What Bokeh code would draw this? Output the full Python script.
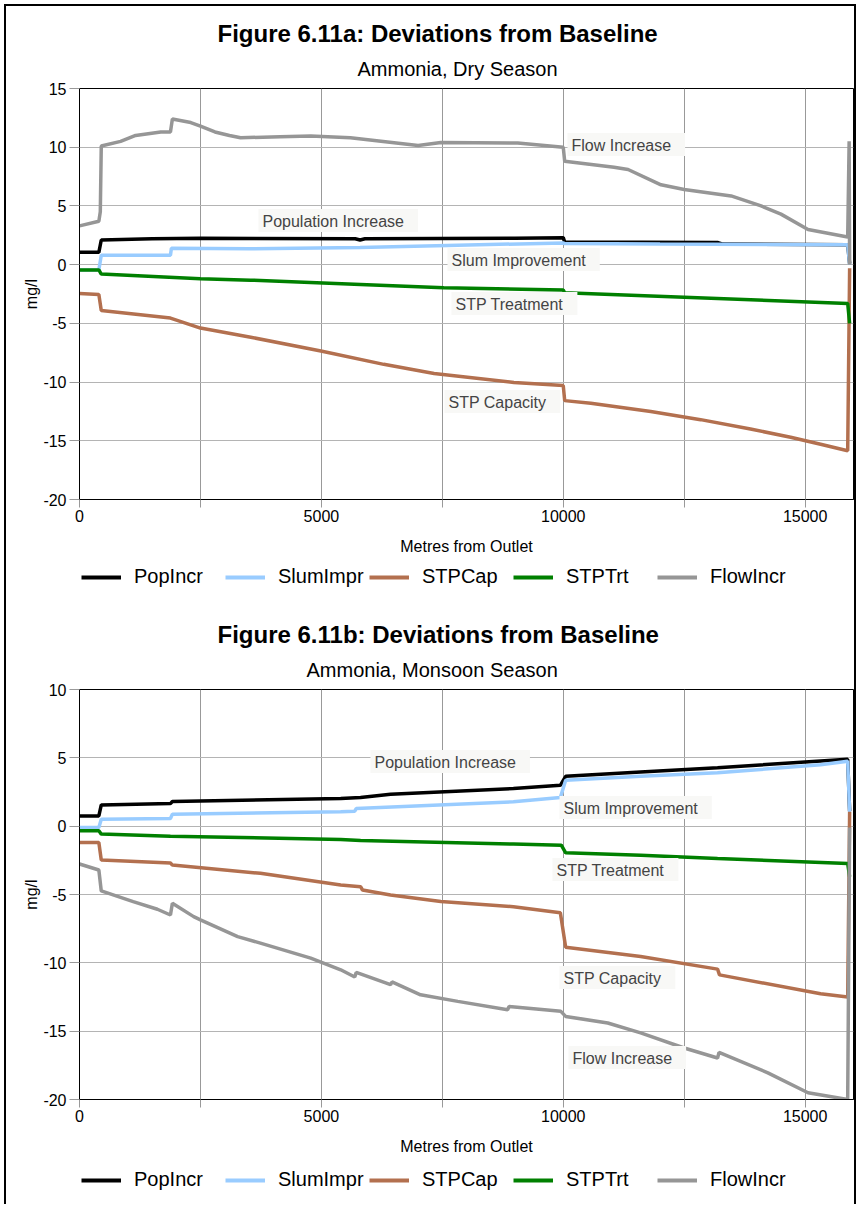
from bokeh.plotting import figure
from bokeh.models import Label, Legend, LegendItem, FixedTicker, Range1d, Title
from bokeh.layouts import column
from bokeh.embed import file_html
from bokeh.resources import INLINE

FONT = "Liberation Sans"

SERIES = ["PopIncr", "SlumImpr", "STPCap", "STPTrt", "FlowIncr"]
COLORS = {"PopIncr": "#000000", "SlumImpr": "#99ccff", "STPCap": "#b3704f",
          "STPTrt": "#008000", "FlowIncr": "#969696"}

# ---------------- Dry season (Figure 6.11a) ----------------
dry_pop_x = [0, 400, 450, 1500, 2500, 5700, 5800, 5900, 9000, 10000, 10030, 13200, 13300, 15880, 15920]
dry_pop_y = [1.05, 1.05, 2.1, 2.2, 2.25, 2.2, 2.1, 2.2, 2.25, 2.3, 1.92, 1.88, 1.75, 1.7, 0.1]

dry_slum_x = [0, 400, 450, 1880, 1900, 3500, 5800, 7600, 10000, 10030, 12000, 15880, 15920]
dry_slum_y = [-0.45, -0.45, 0.8, 0.8, 1.4, 1.35, 1.45, 1.63, 1.85, 1.8, 1.75, 1.7, 0.0]

dry_cap_x = [0, 400, 450, 1880, 2500, 3540, 4990, 6290, 7330, 8980, 10000, 10030, 10570,
             11810, 12840, 13870, 14700, 15320, 15880, 15920]
dry_cap_y = [-2.45, -2.55, -3.9, -4.55, -5.4, -6.18, -7.36, -8.49, -9.27, -10.03, -10.3, -11.58, -11.8,
             -12.5, -13.2, -14.0, -14.7, -15.3, -15.85, -0.3]

dry_trt_x = [0, 400, 450, 2500, 3540, 5810, 7530, 10000, 10030, 15880, 15920]
dry_trt_y = [-0.45, -0.45, -0.8, -1.2, -1.32, -1.69, -1.97, -2.16, -2.4, -3.3, -5.0]

dry_flow_x = [0, 400, 430, 450, 850, 1160, 1680, 1880, 1920, 2300, 2500, 2800, 3100, 3330, 4150, 4780,
              5600, 7000, 7470, 9060, 10000, 10030, 11050, 11340, 12020, 12500, 13470, 14090, 14500,
              15060, 15880, 15910, 15920]
dry_flow_y = [3.3, 3.7, 4.5, 10.1, 10.5, 11.0, 11.3, 11.3, 12.4, 12.1, 11.8, 11.3, 11.0, 10.8, 10.9, 10.95,
              10.8, 10.15, 10.4, 10.35, 10.0, 8.8, 8.3, 8.1, 6.8, 6.4, 5.85, 5.0, 4.3,
              3.0, 2.36, 10.5, 0.0]

# ---------------- Monsoon season (Figure 6.11b) ----------------
mon_pop_x = [0, 400, 450, 1880, 1920, 5400, 5810, 6430, 8970, 9940, 10050, 11600, 13190, 15320, 15880, 15920]
mon_pop_y = [0.75, 0.75, 1.55, 1.65, 1.8, 2.02, 2.1, 2.34, 2.75, 2.99, 3.65, 3.97, 4.28, 4.77, 4.9, 1.1]

mon_slum_x = [0, 400, 450, 1880, 1920, 5400, 5690, 5720, 8970, 9940, 10050, 11600, 13190, 15320, 15880, 15920]
mon_slum_y = [-0.1, -0.1, 0.5, 0.56, 0.88, 1.05, 1.1, 1.29, 1.78, 2.09, 3.36, 3.65, 3.9, 4.5, 4.75, 1.05]

mon_cap_x = [0, 400, 450, 1880, 1920, 3740, 5400, 5810, 5850, 6430, 7470, 8970, 9940, 10050, 11600,
             13190, 13230, 15320, 15880, 15920]
mon_cap_y = [-1.19, -1.19, -2.48, -2.7, -2.85, -3.45, -4.31, -4.43, -4.67, -5.04, -5.52, -5.89, -6.33, -8.86, -9.54,
             -10.46, -10.88, -12.26, -12.5, 1.05]

mon_trt_x = [0, 400, 450, 1880, 5400, 5810, 8970, 9960, 10050, 11600, 13190, 15880, 15920]
mon_trt_y = [-0.34, -0.34, -0.58, -0.73, -0.97, -1.05, -1.31, -1.39, -1.95, -2.12, -2.36, -2.73, -3.7]

mon_flow_x = [0, 400, 450, 1110, 1610, 1880, 1920, 2360, 2500, 3270, 3740, 4780, 5400, 5690, 5720, 6430,
              6460, 7050, 7820, 8850, 8880, 9950, 10050, 10920, 11600, 12500, 13190, 13220, 14230, 15060,
              15880, 15920]
mon_flow_y = [-2.77, -3.21, -4.74, -5.52, -6.08, -6.5, -5.64, -6.62, -6.86, -8.08, -8.56, -9.66, -10.51, -11.04,
              -10.7, -11.6, -11.4, -12.34, -12.82, -13.43, -13.2, -13.55, -13.92, -14.4, -15.13, -16.23,
              -16.96, -16.55, -18.05, -19.51, -20.0, -0.1]

x_ticks = [0, 2500, 5000, 7500, 10000, 12500, 15000]
x_tick_labels = {0: "0", 2500: "", 5000: "5000", 7500: "", 10000: "10000", 12500: "", 15000: "15000"}

dry_series = {"PopIncr": (dry_pop_x, dry_pop_y), "SlumImpr": (dry_slum_x, dry_slum_y),
              "STPCap": (dry_cap_x, dry_cap_y), "STPTrt": (dry_trt_x, dry_trt_y),
              "FlowIncr": (dry_flow_x, dry_flow_y)}
mon_series = {"PopIncr": (mon_pop_x, mon_pop_y), "SlumImpr": (mon_slum_x, mon_slum_y),
              "STPCap": (mon_cap_x, mon_cap_y), "STPTrt": (mon_trt_x, mon_trt_y),
              "FlowIncr": (mon_flow_x, mon_flow_y)}

dry_labels = [("Flow Increase", 488, 355), ("Population Increase", 179, 279),
              ("Slum Improvement", 368, 240), ("STP Treatment", 372, 196), ("STP Capacity", 365, 98)]
mon_labels = [("Population Increase", 291, 338), ("Slum Improvement", 480, 292),
              ("STP Treatment", 473, 230), ("STP Capacity", 480, 122), ("Flow Increase", 489, 42)]

LEFT = 73   # frame left border inside the 6px offset of the framed page


def make_chart(title, subtitle, series, y_lo, y_hi, labels, height, top, bottom, sub_off):
    p = figure(width=848, height=height, x_range=Range1d(0, 16000), y_range=Range1d(y_lo, y_hi),
               output_backend="svg", toolbar_location=None,
               min_border_left=LEFT, min_border_right=1, min_border_top=top, min_border_bottom=bottom)
    p.outline_line_color = "black"
    p.outline_line_width = 1
    p.background_fill_color = "white"

    y_ticks = list(range(y_lo, y_hi + 1, 5))
    p.xaxis.ticker = FixedTicker(ticks=x_ticks)
    p.xaxis.major_label_overrides = x_tick_labels
    p.yaxis.ticker = FixedTicker(ticks=y_ticks)
    p.yaxis.major_label_overrides = {t: str(t) for t in y_ticks}
    p.xgrid.ticker = FixedTicker(ticks=x_ticks)
    p.xgrid.grid_line_color = "#999999"
    p.ygrid.grid_line_color = "#b4b4b4"

    for ax in (p.xaxis[0], p.yaxis[0]):
        ax.axis_line_color = "black"
        ax.major_tick_in = 0
        ax.minor_tick_line_color = None
        ax.major_tick_line_color = "#999999"
        ax.major_label_text_font = FONT
        ax.major_label_text_font_size = "16px"
        ax.major_label_text_color = "black"
        ax.axis_label_text_font = FONT
        ax.axis_label_text_font_size = "16px"
        ax.axis_label_text_font_style = "normal"
        ax.axis_label_text_color = "black"
    p.xaxis.major_tick_out = 8
    p.xaxis.major_label_standoff = 2
    p.xaxis.axis_label = "Metres from Outlet"
    p.xaxis.axis_label_standoff = 13
    p.yaxis.major_tick_out = 10
    p.yaxis.major_label_standoff = 3
    p.yaxis.axis_label = "mg/l"
    p.yaxis.axis_label_standoff = 0

    for name in SERIES:
        xs, ys = series[name]
        p.line(xs, ys, line_color=COLORS[name], line_width=3.5)

    p.add_layout(Title(text=subtitle, align="left", offset=sub_off, standoff=18, text_font=FONT,
                       text_font_size="20px", text_font_style="normal", text_color="black"), "above")
    p.add_layout(Title(text=title, align="left", offset=138, standoff=0, text_font=FONT,
                       text_font_size="24px", text_font_style="bold", text_color="black"), "above")

    for txt, lx, ly in labels:
        p.add_layout(Label(x=lx, y=ly, x_units="screen", y_units="screen", text=txt,
                           text_align="left", text_baseline="middle", text_font=FONT,
                           text_font_size="16px", background_fill_color="#f8f8f6",
                           padding=(4, 14, 4, 2)))
    return p


def make_legend(height, y_pos):
    lf = figure(width=848, height=height, x_range=Range1d(0, 1), y_range=Range1d(0, 1),
                x_axis_type=None, y_axis_type=None,
                output_backend="svg", toolbar_location=None,
                min_border_left=0, min_border_right=0, min_border_top=0, min_border_bottom=0)
    lf.grid.visible = False
    lf.outline_line_color = None
    items = []
    for name in SERIES:
        # legend key only: the line sits outside the visible range
        r = lf.line([0, 1], [-5, -5], line_color=COLORS[name], line_width=4)
        items.append(LegendItem(label=name, renderers=[r]))
    legend = Legend(items=items, orientation="horizontal", location=(2, y_pos),
                    glyph_width=40, glyph_height=20, label_standoff=13, label_width=86, spacing=5,
                    padding=0, margin=0, border_line_alpha=0, background_fill_alpha=0,
                    label_text_font=FONT, label_text_font_size="20px", label_text_color="black")
    lf.add_layout(legend, "center")
    return lf


p1 = make_chart("Figure 6.11a: Deviations from Baseline", "Ammonia, Dry Season", dry_series,
                -20, 15, dry_labels, 551, 82, 54, 278)
l1 = make_legend(53, 22)
p2 = make_chart("Figure 6.11b: Deviations from Baseline", "Ammonia, Monsoon Season", mon_series,
                -20, 10, mon_labels, 547, 79, 57, 227)
l2 = make_legend(47, 13)

layout = column(p1, l1, p2, l2, spacing=0,
                styles={"border-left": "2px solid black", "border-top": "2px solid black",
                        "border-right": "2px solid black", "margin-left": "4px", "margin-top": "4px"})
open("out.html", "w").write(file_html(layout, INLINE))
